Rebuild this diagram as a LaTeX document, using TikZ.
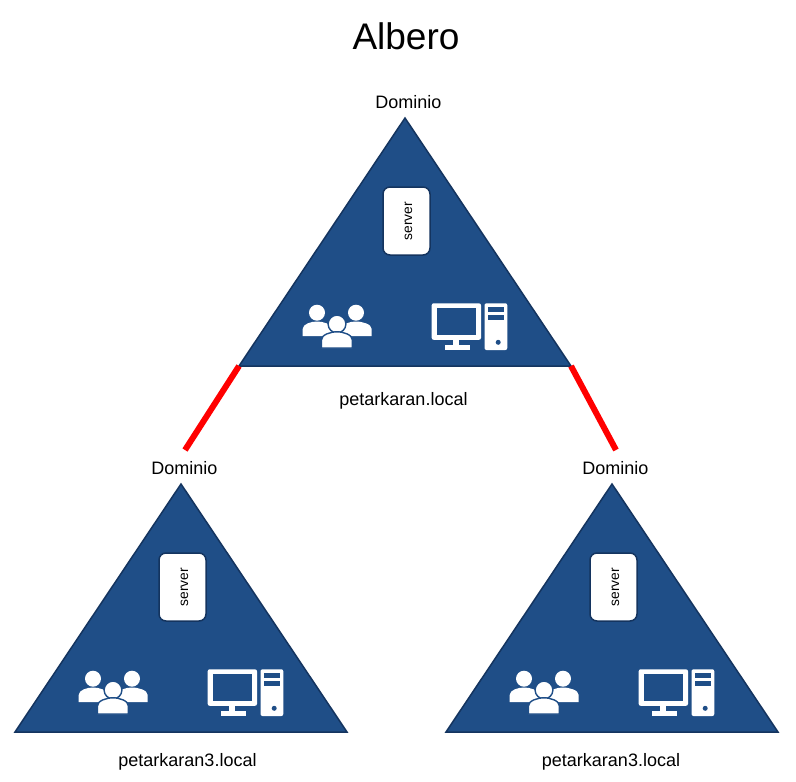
\documentclass[tikz,border=0pt]{standalone}
\usepackage{fontspec}
\setmainfont{Liberation Sans}
\definecolor{triblue}{HTML}{1F4E87}
\definecolor{triedge}{HTML}{14345F}
\tikzset{
  x=1pt,y=-1pt,
  domfill/.style={fill=triblue,draw=triedge,line width=1.5pt,line join=miter},
  serverbox/.style={draw=triedge,fill=white,line width=1.5pt,rounded corners=7pt},
  lab/.style={font=\fontsize{18}{20}\selectfont,text=black,inner sep=0pt},
  serverlab/.style={font=\fontsize{13.8}{15}\selectfont,rotate=90,inner sep=0pt},
  titlelab/.style={font=\fontsize{37}{42}\selectfont,inner sep=0pt},
  icon/.style={fill=white,draw=none},
  halo/.style={fill=white,draw=triblue,line width=1.4pt},
  trust/.style={draw=red,line width=6pt},
  pics/dominio/.style n args={4}{code={
    \path[domfill] (0,0) -- (166,248) -- (-166,248) -- cycle;
    \draw[serverbox] (-22,69) rectangle (25,137);
    \node[serverlab] at (3.5,103) {server};
    % users
    \path[icon] (-88,194.7) circle (8);
    \path[icon] (-49,194.7) circle (8);
    \path[icon] (-102.3,218) -- (-102.3,211) .. controls (-102.3,206) and (-94,203.5) .. (-88,203.5)
      .. controls (-82,203.5) and (-73,206) .. (-73,211) -- (-73,218) -- cycle;
    \path[icon] (-64,218) -- (-64,211) .. controls (-64,206) and (-55,203.5) .. (-49,203.5)
      .. controls (-43,203.5) and (-33.3,206) .. (-33.3,211) -- (-33.3,218) -- cycle;
    \path[halo] (-68,206) circle (8.9);
    \path[halo] (-83.6,230) -- (-83.6,222) .. controls (-83.6,216.5) and (-74,213.8) .. (-68,213.8)
      .. controls (-62,213.8) and (-52.6,216.5) .. (-52.6,222) -- (-52.6,230) -- cycle;
    % computer
    \path[icon,rounded corners=2pt] (26.7,185.3) rectangle (76,221.8);
    \path[fill=triblue] (31.5,190.3) rectangle (71.3,216.5);
    \path[icon] (48.3,221) rectangle (54.3,228);
    \path[icon] (39.5,226.7) rectangle (64.5,231.7);
    \path[icon,rounded corners=2pt] (79.5,185.3) rectangle (102.3,232);
    \path[fill=triblue] (82.9,188.7) rectangle (99,193.7);
    \path[fill=triblue] (82.9,197) rectangle (99,202);
    \path[fill=triblue] (93.2,224.3) circle (2.5);
    \node[lab] (#1dom) at (3.5,-16) {Dominio};
    \node[lab] (#1name) at (#2,#3) {#4};
    \coordinate (#1left) at (-166,248);
    \coordinate (#1right) at (166,248);
  }}
}
\begin{document}
\begin{tikzpicture}
\useasboundingbox (0,0) rectangle (796,782);
\fill[white] (0,0) rectangle (796,782);
\node[titlelab] (title) at (406,36) {Albero};
\pic at (405,118) {dominio={top}{-1.5}{282.5}{petarkaran.local}};
\pic at (181,484) {dominio={lft}{6.5}{277.5}{petarkaran3.local}};
\pic at (612,484) {dominio={rgt}{-1}{277.5}{petarkaran3.local}};
\coordinate (lend) at (185,450);
\coordinate (rend) at (616,450);
\draw[trust] (topleft) -- (lend);
\draw[trust] (topright) -- (rend);
\end{tikzpicture}
\end{document}
